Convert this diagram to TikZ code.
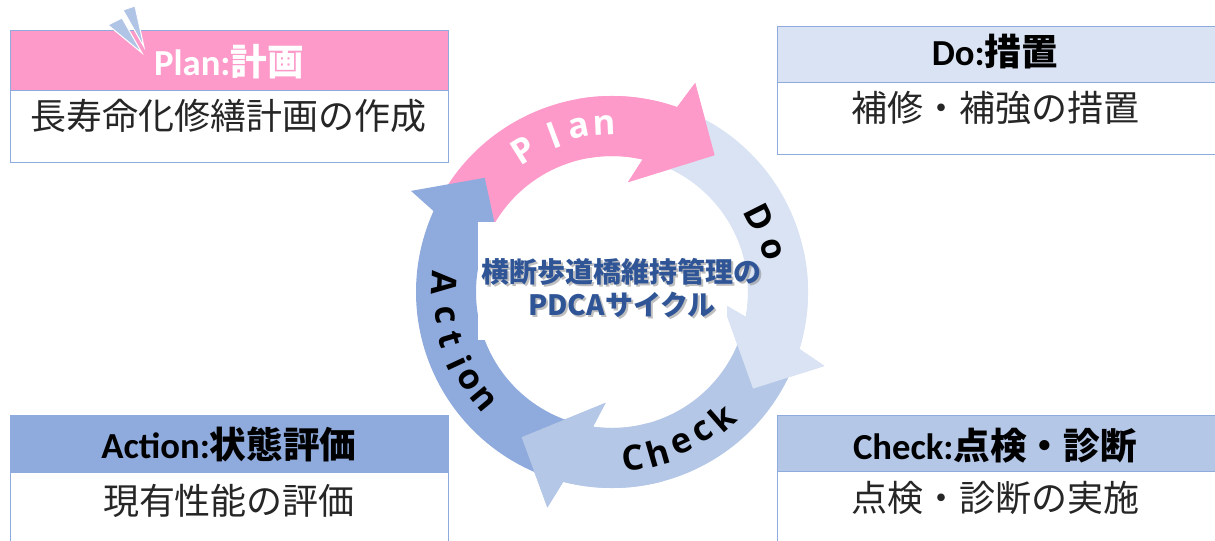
\documentclass[tikz,border=0pt]{standalone}
\usepackage{fontspec}
\setmainfont{Carlito}
\newfontfamily\cjk{Noto Sans CJK JP}
\newfontfamily\ringfont{Open Sans}
\definecolor{pinkc}{RGB}{253,154,201}
\definecolor{dolight}{RGB}{218,227,243}
\definecolor{checkc}{RGB}{180,199,231}
\definecolor{actc}{RGB}{143,170,220}
\definecolor{bordc}{RGB}{143,170,220}
\definecolor{titleblue}{RGB}{47,85,151}
\definecolor{bodytxt}{RGB}{38,38,38}
\definecolor{spikec}{RGB}{176,196,230}
\newcommand{\ringarrow}[4]{%
  \fill[#4] (#2:196) arc[start angle=#2, end angle={70.6+(#1)}, radius=196]
    -- ({68.3+(#1)}:225) -- ({53.1+(#1)}:171) -- ({81.7+(#1)}:111) -- ({77+(#1)}:136)
    arc[start angle={77+(#1)}, end angle=#3, radius=136] -- cycle;}
\begin{document}
\begin{tikzpicture}[x=0.75pt,y=0.75pt,
  boxhdr/.style={draw=bordc, line width=0.75pt, anchor=north west, minimum width=328.5pt, minimum height=45pt, inner sep=0pt},
  boxbody/.style={draw=bordc, line width=0.75pt, fill=white, anchor=north west, minimum width=328.5pt, inner sep=0pt},
  hdrtext/.style={font=\fontsize{27.5pt}{30pt}\selectfont\bfseries, inner sep=0pt},
  bodytext/.style={font=\fontsize{27pt}{30pt}\selectfont\cjk, text=bodytxt, inner sep=0pt},
  ringl/.style={font=\fontsize{26pt}{28pt}\selectfont\ringfont\bfseries, inner sep=0pt},
  ctext/.style={font=\fontsize{21pt}{24pt}\selectfont\cjk\bfseries, text=titleblue, inner sep=0pt}]
\useasboundingbox (0,0) rectangle (1215,540);
% --- boxes ---
\node[boxhdr, fill=pinkc] (planhead) at (10,510) {};
\node[boxbody, minimum height=54pt] (planbody) at (10,450) {};
\node[boxhdr, fill=dolight, minimum width=330pt, minimum height=42pt] (dohead) at (777,514) {};
\node[boxbody, minimum width=330pt, minimum height=54pt] (dobody) at (777,458) {};
\node[boxhdr, fill=actc, minimum height=42.75pt] (acthead) at (10,125) {};
\node[boxbody, minimum height=52.5pt] (actbody) at (10,68) {};
\node[boxhdr, fill=checkc, minimum width=330pt, minimum height=42pt] (chkhead) at (777,125) {};
\node[boxbody, minimum width=330pt, minimum height=53.25pt] (chkbody) at (777,69) {};
% --- box texts ---
\node[hdrtext, text=white] (plantitle) at (229,478) {Plan:{\cjk 計画}};
\node[bodytext] (plantext) at (229,424) {長寿命化修繕計画の作成};
\node[hdrtext] (dotitle) at (995,488) {Do:{\cjk 措置}};
\node[bodytext] (dotext) at (995,432) {補修・補強の措置};
\node[hdrtext] (acttitle) at (229,96) {Action:{\cjk 状態評価}};
\node[bodytext] (acttext) at (229,39) {現有性能の評価};
\node[hdrtext] (chktitle) at (995,94) {Check:{\cjk 点検・診断}};
\node[bodytext] (chktext) at (995,42) {点検・診断の実施};
% --- spikes ---
\filldraw[fill=spikec, draw=white, line width=0.75pt] (108,515) -- (122,522) -- (142,487) -- cycle;
\filldraw[fill=spikec, draw=white, line width=0.75pt] (123,530) -- (135,534) -- (144,493) -- cycle;
% --- cycle ---
\begin{scope}[shift={(612,248)}]
  \ringarrow{0}{151}{155}{pinkc}
  \ringarrow{-87.5}{66}{70}{dolight}
  \ringarrow{-175}{-21.5}{-17.5}{checkc}
  \ringarrow{85}{251}{255}{actc}
  \ringarrow{0}{100}{100}{pinkc}
  \ringarrow{-87.5}{12.5}{12.5}{dolight}
  \ringarrow{-175}{-75}{-75}{checkc}
\end{scope}
\fill[white] (478,200) rectangle (727,318);
\begin{scope}[shift={(612,248)}]
  \foreach \a/\l [count=\i] in {122/P,110.5/l,101.5/a,92.5/n}
    \node[ringl, text=white, rotate=\a-90] (rp\i) at (\a:167) {\l};
  \foreach \a/\l [count=\i] in {26.7/D,15/o}
    \node[ringl, rotate=\a-90] (rd\i) at (\a:165) {\l};
  \foreach \a/\l [count=\i] in {-82.9/C,-74/h,-65.4/e,-57/c,-48.7/k}
    \node[ringl, rotate=\a+90] (rc\i) at (\a:167) {\l};
  \foreach \a/\l [count=\i] in {176.9/A,187.8/c,196.5/t,205/i,211.5/o,219.7/n}
    \node[ringl, rotate=\a+90] (ra\i) at (\a:168) {\l};
\end{scope}
% --- centre title ---
\node[ctext, text=black!55, opacity=0.45] (title1s) at (623,266) {横断歩道橋維持管理の};
\node[ctext, text=black!55, opacity=0.45] (title2s) at (624,233) {PDCAサイクル};
\node[ctext] (title1) at (621,268) {横断歩道橋維持管理の};
\node[ctext] (title2) at (622,235) {PDCAサイクル};
\end{tikzpicture}
\end{document}
